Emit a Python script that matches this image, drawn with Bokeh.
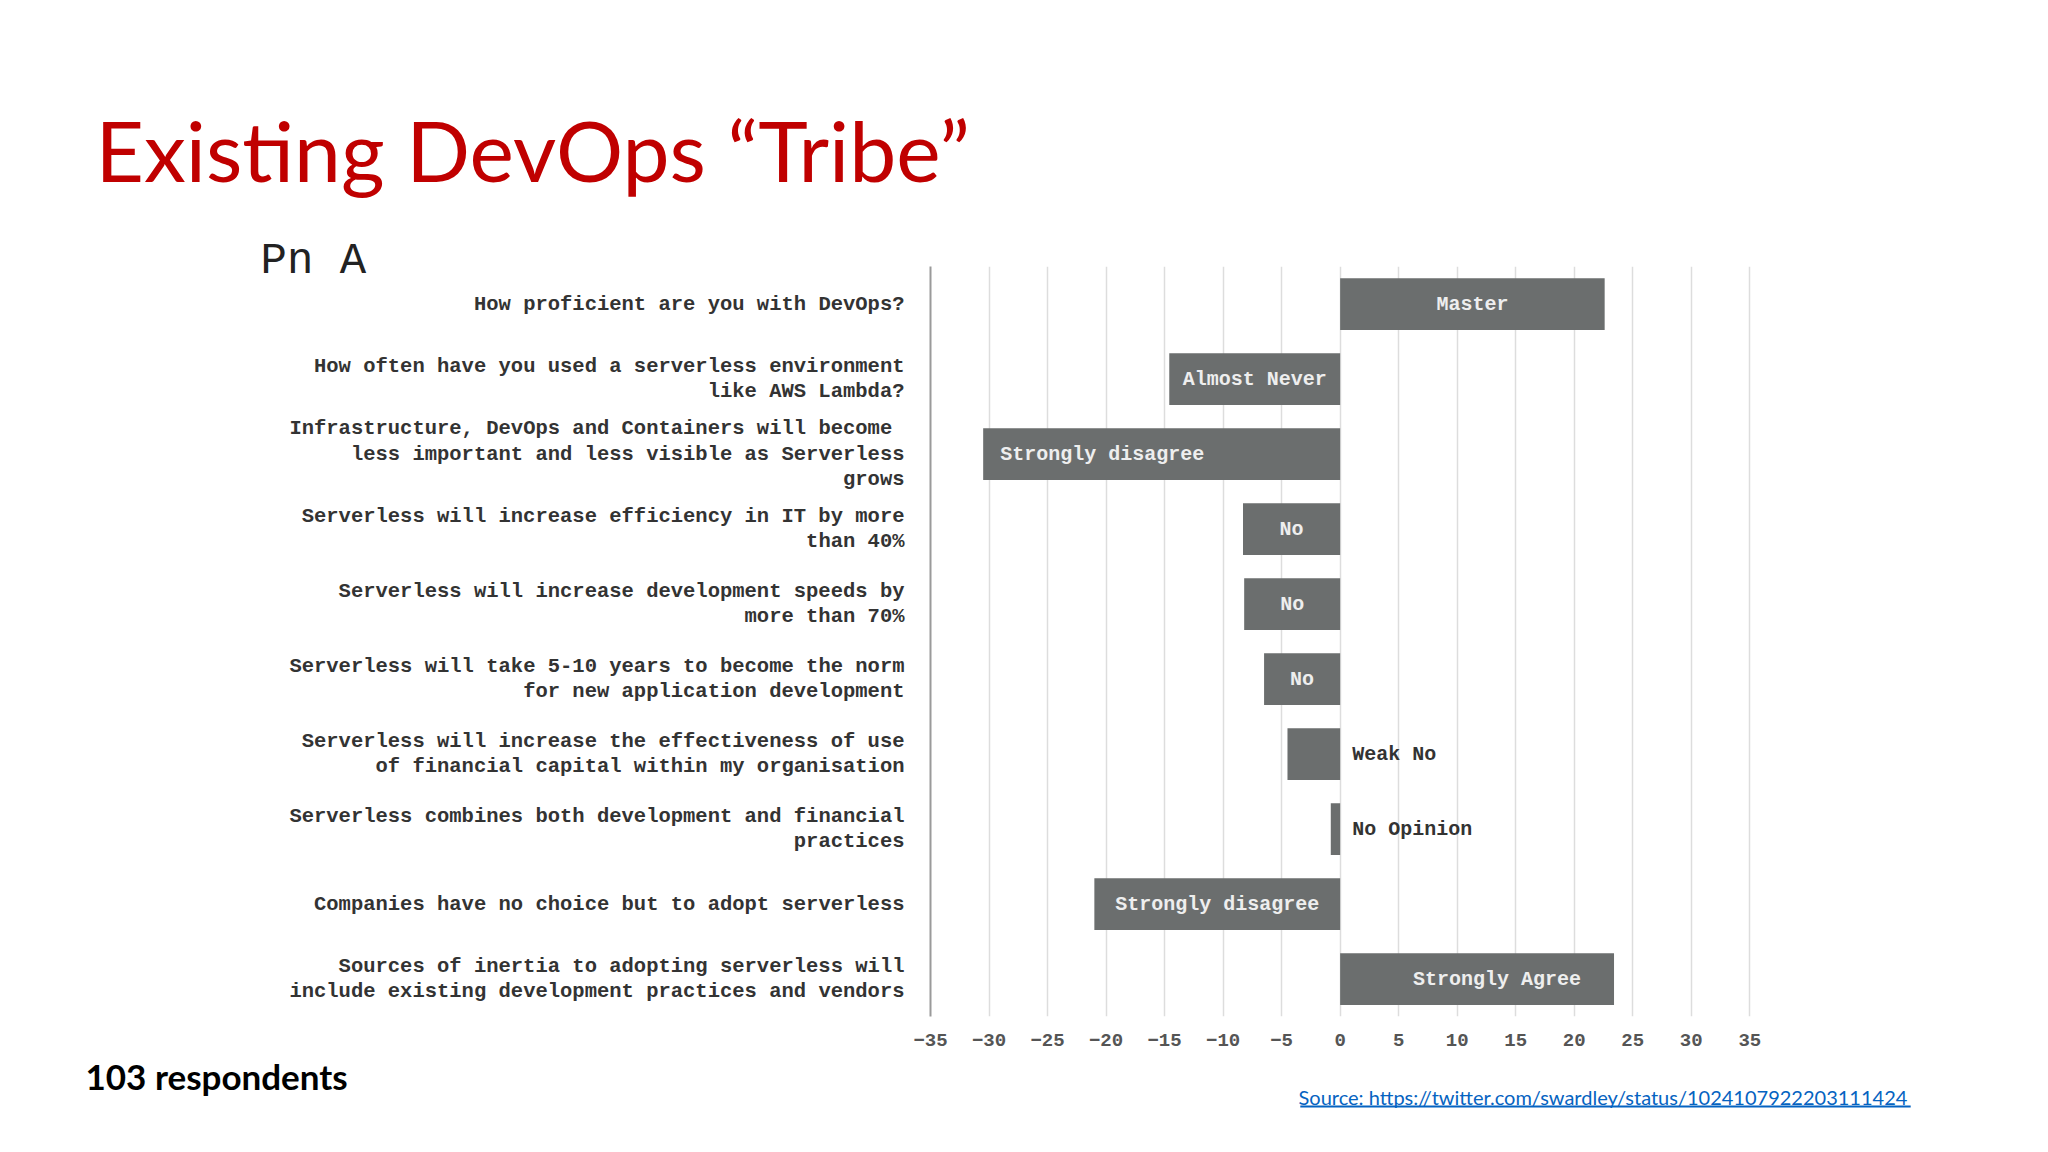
from bokeh.plotting import figure
from bokeh.models import FactorRange, Range1d, FixedTicker, Label, ColumnDataSource
from bokeh.core.properties import value
from bokeh.embed import file_html
from bokeh.resources import INLINE

# ---------------- data ----------------
questions = [
    "How proficient are you with DevOps?",
    "How often have you used a serverless environment\nlike AWS Lambda?",
    "Infrastructure, DevOps and Containers  will become\nless important and less visible as Serverless\ngrows",
    "Serverless will increase efficiency in IT by more\nthan 40%",
    "Serverless will increase development speeds by\nmore than 70%",
    "Serverless will take 5-10 years to become the norm\nfor new application development",
    "Serverless will increase the effectiveness of use\nof financial capital within my organisation",
    "Serverless combines both development and financial\npractices",
    "Companies have no choice but to adopt serverless",
    "Sources of inertia to adopting serverless will\ninclude existing development practices and vendors",
]
scores = [22.6, -14.6, -30.5, -8.3, -8.2, -6.5, -4.5, -0.8, -21.0, 23.4]
answers = ["Master", "Almost Never", "Strongly disagree", "No", "No", "No",
           "Weak No", "No Opinion", "Strongly disagree", "Strongly Agree"]
x_ticks = [-35, -30, -25, -20, -15, -10, -5, 0, 5, 10, 15, 20, 25, 30, 35]

# label placement style per bar (not data)
label_place = ["center", "center", "start", "center", "center", "center",
               "outside", "outside", "center", "end"]

MONO = "Liberation Mono"
SANS = "Lato"

p = figure(width=2032, height=1136,
           y_range=FactorRange(factors=questions[::-1]),
           x_range=Range1d(-35, 36),
           output_backend="svg", toolbar_location=None,
           min_border_left=930, min_border_right=271,
           min_border_top=266, min_border_bottom=120)
p.background_fill_color = "white"
p.border_fill_color = "white"
p.outline_line_color = None

src = ColumnDataSource(dict(q=questions, v=scores))
p.hbar(y="q", left=0, right="v", height=0.69, source=src,
       fill_color="#6b6e6e", line_color=None)

# bar labels
groups = {"center": [], "start": [], "end": [], "outside": []}
for q, v, a, pl in zip(questions, scores, answers, label_place):
    groups[pl].append((q, v, a))

def add_text(items, xfun, align, offset, color):
    if not items:
        return
    s = ColumnDataSource(dict(q=[i[0] for i in items],
                              x=[xfun(i[1]) for i in items],
                              t=[i[2] for i in items]))
    p.text(x="x", y="q", text="t", source=s, text_align=align,
           text_baseline="middle", x_offset=offset,
           text_font=value(MONO), text_font_size="20px",
           text_font_style="bold", text_color=color)

add_text(groups["center"], lambda v: v / 2, "center", 0, "#eeeeee")
add_text(groups["start"], lambda v: v, "left", 17, "#eeeeee")
add_text(groups["end"], lambda v: v, "right", -33, "#eeeeee")
add_text(groups["outside"], lambda v: 0, "left", 12, "#333333")

# axes
yax = p.yaxis[0]
yax.axis_line_color = "#9a9a9a"
yax.axis_line_width = 2
yax.major_tick_line_color = None
yax.minor_tick_line_color = None
yax.major_tick_out = 0
yax.major_label_standoff = 26
yax.major_label_text_font = MONO
yax.major_label_text_font_size = "20.5px"
yax.major_label_text_font_style = "bold"
yax.major_label_text_color = "#333333"
yax.major_label_text_line_height = 1.1

xax = p.xaxis[0]
xax.ticker = FixedTicker(ticks=x_ticks)
xax.axis_line_color = None
xax.major_tick_line_color = None
xax.minor_tick_line_color = None
xax.major_tick_out = 0
xax.major_label_standoff = 17
xax.major_label_text_font = MONO
xax.major_label_text_font_size = "19px"
xax.major_label_text_font_style = "bold"
xax.major_label_text_color = "#555555"

p.xgrid.ticker = FixedTicker(ticks=x_ticks)
p.xgrid.grid_line_color = "#dddddd"
p.xgrid.grid_line_width = 1.5
p.ygrid.grid_line_color = None

# slide texts, in canvas pixels, placed in side panels (not clipped to frame)
p.add_layout(Label(x=95, y=149, x_units="canvas", y_units="canvas",
                   text="Existing DevOps \u201cTribe\u201d", text_font=SANS,
                   text_font_size="84px", text_color="#c00000",
                   text_baseline="alphabetic"), "above")
p.add_layout(Label(x=260, y=260, x_units="canvas", y_units="canvas",
                   text="Pn A", text_font=MONO, text_font_size="44px",
                   text_color="#222222", text_baseline="middle"), "above")
p.add_layout(Label(x=85, y=1075, x_units="canvas", y_units="canvas",
                   text="103 respondents", text_font=SANS,
                   text_font_size="35px", text_font_style="bold",
                   text_color="#000000", text_baseline="alphabetic"), "below")
p.add_layout(Label(x=1298, y=1096, x_units="canvas", y_units="canvas",
                   text="Source: https://twitter.com/swardley/status/1024107922203111424",
                   text_font=SANS, text_font_size="20px",
                   text_color="#0563c1", text_baseline="alphabetic"), "below")
# underline of the link: a thin coloured box around a tiny blank label
p.add_layout(Label(x=1605, y=1106, x_units="canvas", y_units="canvas",
                   text=" ", text_font=SANS, text_font_size="1.5px",
                   text_align="center", text_baseline="middle",
                   padding=(305, 305, 0, 0),
                   background_fill_color="#0563c1", background_fill_alpha=1.0),
             "below")

open("out.html", "w").write(file_html(p, INLINE))
